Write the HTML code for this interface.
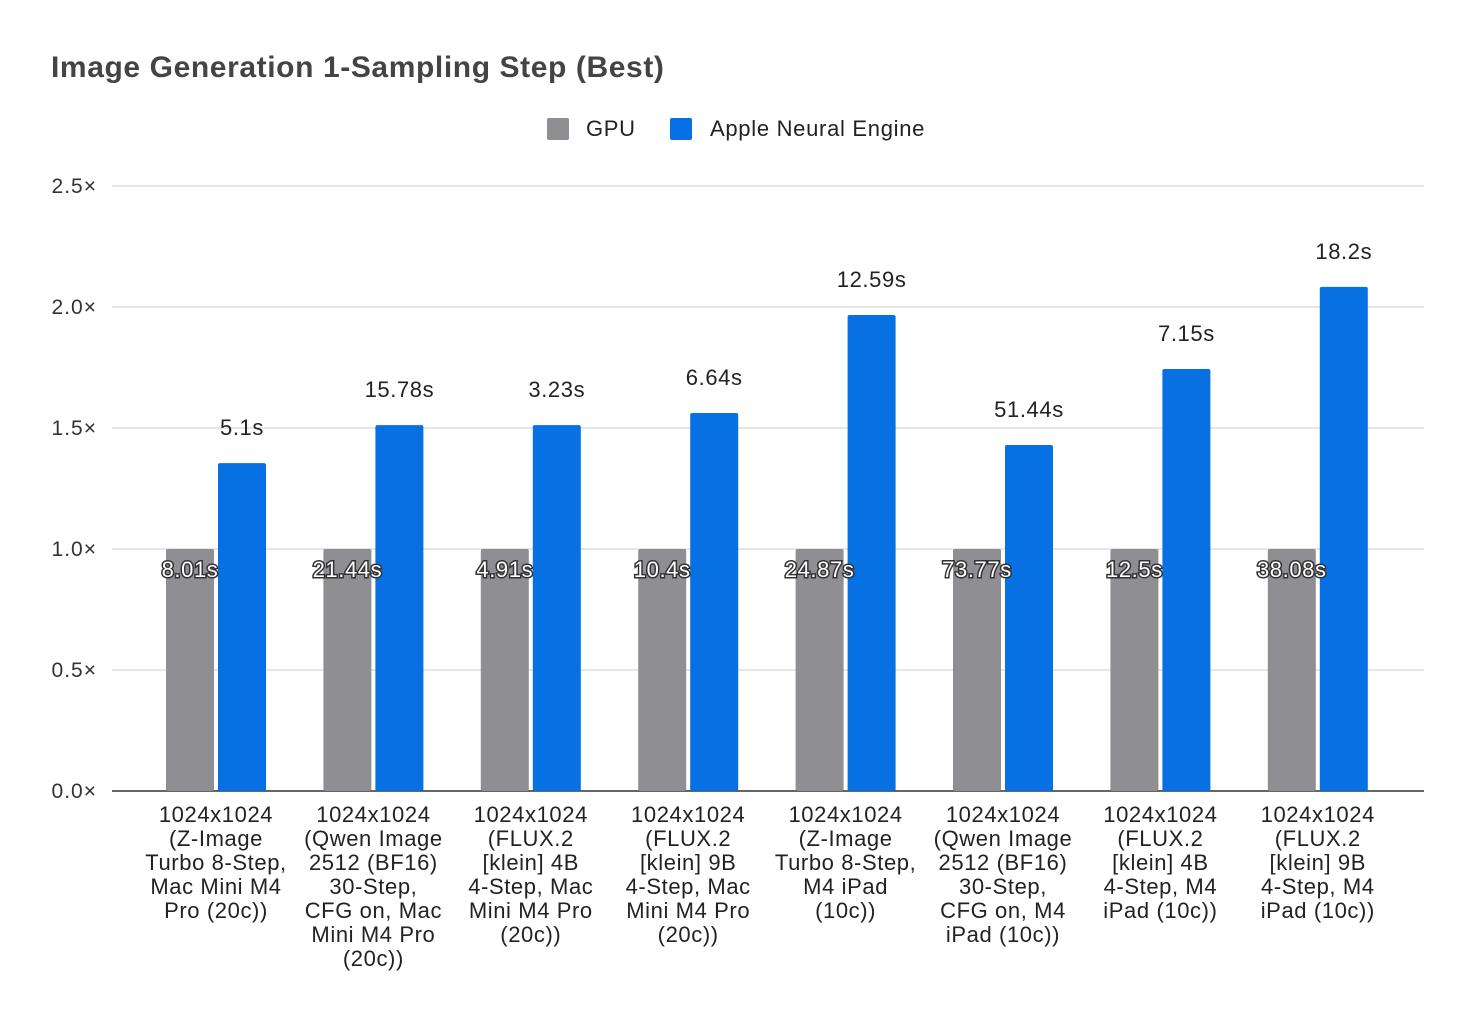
<!DOCTYPE html>
<html><head><meta charset="utf-8"><style>
body{margin:0;background:#fff;font-family:"Liberation Sans",Arial,sans-serif}
svg text{font-family:"Liberation Sans",Arial,sans-serif}
</style></head><body>
<svg id="c" width="1476" height="1022" xmlns="http://www.w3.org/2000/svg">
<rect width="1476" height="1022" fill="#fff"/>
<text x="51" y="77" font-size="30" font-weight="bold" fill="#444" letter-spacing="0.6">Image Generation 1-Sampling Step (Best)</text>
<g>
<rect x="547" y="118" width="22" height="22" rx="2" fill="#8e8e93"/>
<text x="586" y="136" font-size="22" letter-spacing="0.7" fill="#222">GPU</text>
<rect x="670" y="118" width="22" height="22" rx="2" fill="#0770e3"/>
<text x="710" y="136" font-size="22" letter-spacing="0.7" fill="#222">Apple Neural Engine</text>
</g>
<g id="grid"></g><g id="bars"></g><g id="labels"></g>
</svg>
<script>
const categories=[
["1024x1024","(Z-Image","Turbo 8-Step,","Mac Mini M4","Pro (20c))"],
["1024x1024","(Qwen Image","2512 (BF16)","30-Step,","CFG on, Mac","Mini M4 Pro","(20c))"],
["1024x1024","(FLUX.2","[klein] 4B","4-Step, Mac","Mini M4 Pro","(20c))"],
["1024x1024","(FLUX.2","[klein] 9B","4-Step, Mac","Mini M4 Pro","(20c))"],
["1024x1024","(Z-Image","Turbo 8-Step,","M4 iPad","(10c))"],
["1024x1024","(Qwen Image","2512 (BF16)","30-Step,","CFG on, M4","iPad (10c))"],
["1024x1024","(FLUX.2","[klein] 4B","4-Step, M4","iPad (10c))"],
["1024x1024","(FLUX.2","[klein] 9B","4-Step, M4","iPad (10c))"]];
const gpuValues=[1,1,1,1,1,1,1,1];
const aneValues=[1.355,1.512,1.512,1.562,1.967,1.43,1.744,2.083];
const gpuLabels=["8.01s","21.44s","4.91s","10.4s","24.87s","73.77s","12.5s","38.08s"];
const aneLabels=["5.1s","15.78s","3.23s","6.64s","12.59s","51.44s","7.15s","18.2s"];
const yTicks=[0,0.5,1,1.5,2,2.5];
const tickLabels=["0.0×","0.5×","1.0×","1.5×","2.0×","2.5×"];
const NS="http://www.w3.org/2000/svg";
const y=v=>791-v*242;
const xc=i=>216+i*157.4;
function mk(tag,attrs,parent,txt){const e=document.createElementNS(NS,tag);for(const k in attrs)e.setAttribute(k,attrs[k]);if(txt!==undefined)e.textContent=txt;document.getElementById(parent).appendChild(e);return e;}
yTicks.forEach((t,i)=>{
 const l=mk('line',{x1:112,x2:1424,y1:y(t),y2:y(t),stroke:i==0?'#333':'#ccc','stroke-width':i==0?1.5:1},'grid');
 
 
 const tx=mk('text',{x:97,y:y(t)+7,'text-anchor':'end','font-size':21,'letter-spacing':1,fill:'#333'},'grid',tickLabels[i]);
 
 
});
categories.forEach((c,i)=>{
 const cx=xc(i);
 const g=mk('rect',{x:cx-50,y:y(gpuValues[i]),width:48,height:791-y(gpuValues[i]),fill:'#8e8e93',rx:2},'bars');
 
 
 const a=mk('rect',{x:cx+2,y:y(aneValues[i]),width:48,height:791-y(aneValues[i]),fill:'#0770e3',rx:2},'bars');
 
 
 const gl=mk('text',{x:cx-26,y:y(gpuValues[i])+28,'text-anchor':'middle','font-size':22,'letter-spacing':0.6,fill:'#fff',stroke:'#333','stroke-width':3,'paint-order':'stroke'},'labels',gpuLabels[i]);
 
 
 const al=mk('text',{x:cx+26,y:y(aneValues[i])-28,'text-anchor':'middle','font-size':22,'letter-spacing':0.6,fill:'#222'},'labels',aneLabels[i]);
 
 
 c.forEach((line,j)=>{
  const t=mk('text',{x:cx,y:822+j*24,'text-anchor':'middle','font-size':22,'letter-spacing':0.6,fill:'#222'},'labels',line);
  
  
 });
});
</script>
</body></html>
